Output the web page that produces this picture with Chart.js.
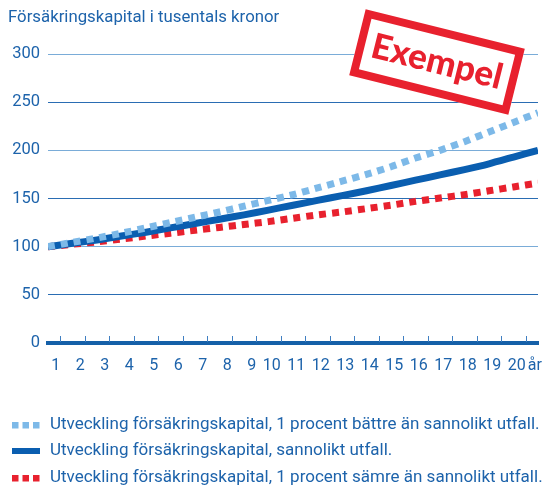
<!DOCTYPE html>
<html>
<head>
<meta charset="utf-8">
<script src="https://cdn.jsdelivr.net/npm/chart.js@4"></script>
<style>
  html, body { margin: 0; padding: 0; background: #fff; }
  #wrap { width: 553px; height: 488px; }
</style>
</head>
<body>
<div id="wrap"><canvas id="chart" width="553" height="488"></canvas></div>
<script>
// years since start, 0..20
const years = [0, 1, 2, 3, 4, 5, 6, 7, 8, 9, 10, 11, 12, 13, 14, 15, 16, 17, 18, 19, 20]
// values (tusentals kronor)
const betterValues = [100, 104.5, 109, 114, 119.5, 125, 130.5, 136, 142, 148, 154, 161, 168, 175, 183, 192, 200, 209, 219, 229, 239]
const likelyValues = [100, 103.5, 107, 111, 115, 119.5, 124, 128.5, 133, 138, 143, 148, 153, 158, 163.5, 169, 174.5, 180, 186, 193, 200]
const worseValues = [100, 102.5, 105, 108, 111, 114, 117, 120, 123, 126, 129.5, 133, 136, 139.5, 143, 147, 150.5, 154, 158, 162, 166]
const xTickLabels = ['1', '2', '3', '4', '5', '6', '7', '8', '9', '10', '11', '12', '13', '14', '15', '16', '17', '18', '19', '20']
const yTickValues = [0, 50, 100, 150, 200, 250, 300]
const seriesLabels = [
    'Utveckling försäkringskapital, 1 procent bättre än sannolikt utfall.',
    'Utveckling försäkringskapital, sannolikt utfall.',
    'Utveckling försäkringskapital, 1 procent sämre än sannolikt utfall.'
]
const titleText = 'Försäkringskapital i tusentals kronor'
const unitText = 'år'
const stampText = 'Exempel'

const FONT = 'Roboto'
const TEXT = '#1d63ab'
const LIGHT = '#7db9e8'
const DARK = '#0a5eb0'
const RED = '#e8212e'

function toPoints(values) {
    return values.map((v, i) => ({ x: years[i], y: v }))
}

const extras = {
    id: 'extras',
    afterDatasetsDraw(chart) {
        const ctx = chart.ctx
        const xs = chart.scales.x
        const area = chart.chartArea
        // small tick marks above the axis line
        ctx.save()
        ctx.strokeStyle = '#3f7fc2'
        ctx.lineWidth = 1
        xTickLabels.forEach((lab, i) => {
            const x = Math.round(xs.getPixelForValue(i + 0.5)) + 0.5
            ctx.beginPath()
            ctx.moveTo(x, area.bottom - 1)
            ctx.lineTo(x, area.bottom - 7)
            ctx.stroke()
        })
        ctx.restore()
    },
    afterDraw(chart) {
        const ctx = chart.ctx
        const xs = chart.scales.x
        ctx.save()
        ctx.textAlign = 'left'
        ctx.textBaseline = 'middle'
        // title
        ctx.fillStyle = TEXT
        ctx.font = '16.8px ' + FONT
        ctx.fillText(titleText, 8, 18)

        // unit after last tick label, same baseline as the numbers
        ctx.font = '16px ' + FONT
        ctx.textBaseline = 'alphabetic'
        ctx.fillText(unitText, xs.getPixelForValue(19.5) + 2, 370)
        ctx.textBaseline = 'middle'

        // legend
        const ds = chart.data.datasets
        const rows = [425, 451, 478]
        ds.forEach((d, i) => {
            const y = rows[i]
            ctx.fillStyle = d.borderColor
            if (d.borderDash && d.borderDash.length) {
                for (let k = 0; k < 3; k++) {
                    ctx.fillRect(12 + k * 10.5, y - 3, 6.5, 6.5)
                }
            } else {
                ctx.fillRect(12, y - 3, 28, 6)
            }
            ctx.fillStyle = TEXT
            ctx.font = '17px ' + FONT
            ctx.fillText(seriesLabels[i], 50, y)
        })

        // stamp
        ctx.translate(437, 62)
        ctx.rotate(14 * Math.PI / 180)
        const w = 164, h = 68
        ctx.fillStyle = '#fff'
        ctx.fillRect(-w / 2, -h / 2, w, h)
        ctx.strokeStyle = RED
        ctx.lineWidth = 8
        ctx.strokeRect(-w / 2 + 4, -h / 2 + 4, w - 8, h - 8)
        ctx.fillStyle = RED
        ctx.font = '900 35px Lato'
        ctx.textAlign = 'center'
        ctx.textBaseline = 'middle'
        ctx.fillText(stampText, 0, 0)
        ctx.restore()
    }
}

const ctx = document.getElementById('chart').getContext('2d')
const chart = new Chart(ctx, {
    type: 'line',
    data: {
        datasets: [{
            label: seriesLabels[0],
            data: toPoints(betterValues),
            borderColor: LIGHT,
            borderWidth: 7,
            borderDash: [7, 6],
            borderCapStyle: 'butt'
        }, {
            label: seriesLabels[1],
            data: toPoints(likelyValues),
            borderColor: DARK,
            borderWidth: 7
        }, {
            label: seriesLabels[2],
            data: toPoints(worseValues),
            borderColor: RED,
            borderWidth: 7,
            borderDash: [7, 6],
            borderCapStyle: 'butt'
        }]
    },
    options: {
        responsive: false,
        animation: false,
        events: [],
        elements: { point: { radius: 0 }, line: { tension: 0.2 } },
        layout: { padding: { top: 54, right: 15, bottom: 115, left: 0 } },
        plugins: { legend: { display: false }, tooltip: { enabled: false } },
        scales: {
            x: {
                type: 'linear',
                min: 0,
                max: 20,
                afterBuildTicks: scale => {
                    scale.ticks = xTickLabels.map((l, i) => ({ value: i + 0.5 }))
                },
                afterFit: scale => { scale.height = 30 },
                grid: { display: false },
                border: { display: true, color: '#1560a8', width: 4 },
                ticks: {
                    autoSkip: false,
                    maxRotation: 0,
                    align: 'end',
                    padding: 5,
                    color: TEXT,
                    font: { family: FONT, size: 16 },
                    callback: (v, i) => xTickLabels[i]
                }
            },
            y: {
                min: 0,
                max: 300,
                afterBuildTicks: scale => {
                    scale.ticks = yTickValues.map(v => ({ value: v }))
                },
                afterFit: scale => { scale.width = 48 },
                border: { display: false },
                grid: {
                    drawTicks: false,
                    lineWidth: 1,
                    color: c => c.tick.value === 0 ? 'rgba(0,0,0,0)' : (c.index % 2 === 0 ? '#7aacd8' : '#2a6db3')
                },
                ticks: {
                    padding: 8,
                    color: TEXT,
                    font: { family: FONT, size: 16.5 }
                }
            }
        }
    },
    plugins: [extras]
})
</script>
</body>
</html>
